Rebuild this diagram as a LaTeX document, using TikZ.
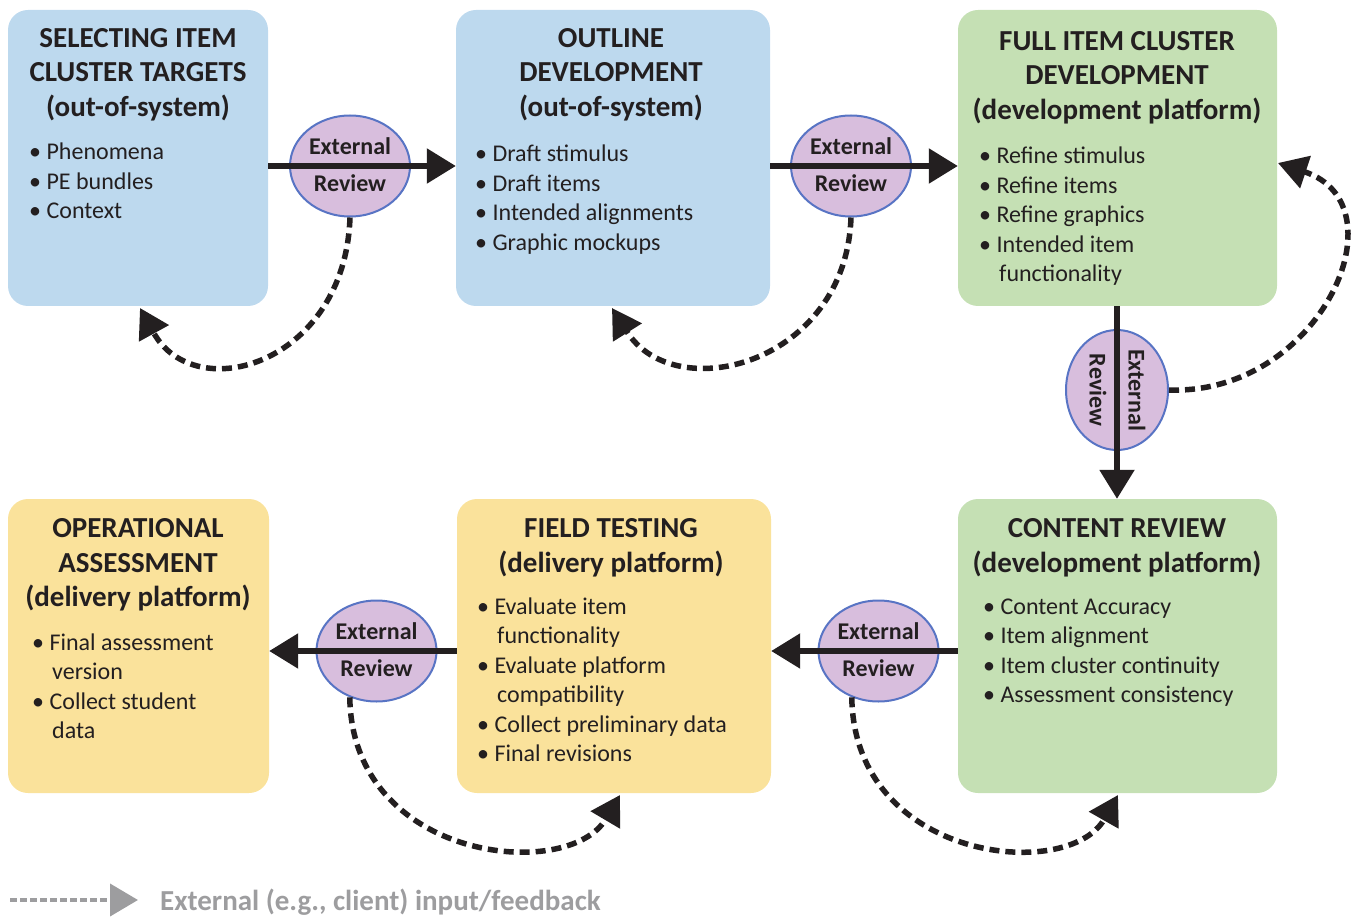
\documentclass[tikz,border=0pt]{standalone}
\usepackage{fontspec}
\setmainfont{Carlito}
\usetikzlibrary{arrows.meta,shapes.geometric}
\definecolor{boxblue}{HTML}{BDD9EE}
\definecolor{boxgreen}{HTML}{C5E0B4}
\definecolor{boxyellow}{HTML}{FAE29B}
\definecolor{ellfill}{HTML}{D8BEDD}
\definecolor{ellborder}{HTML}{5874C4}
\definecolor{ink}{HTML}{231F20}
\definecolor{legendgray}{HTML}{9D9D9F}
\newcommand{\mktitle}[1]{\begin{tabular}[t]{@{}c@{}}#1\end{tabular}}
\newcommand{\mkbody}[1]{\begin{tabular}[t]{@{}l@{}}#1\end{tabular}}
\newcommand{\bul}{\textbullet\ }
\newcommand{\cont}{\hspace*{20pt}}
\begin{document}
\begin{tikzpicture}[x=1pt,y=-1pt,
  box/.style={rectangle,rounded corners=20pt,minimum height=296pt,inner sep=0pt},
  ttl/.style={anchor=base,inner sep=0pt,text=ink,font=\fontsize{29}{34.5}\selectfont\bfseries},
  body/.style={anchor=base west,inner sep=0pt,text=ink,font=\fontsize{24}{29.5}\selectfont},
  rev/.style={ellipse,draw=ellborder,line width=2pt,fill=ellfill,minimum width=120pt,minimum height=101pt,inner sep=0pt},
  revtxt/.style={inner sep=0pt,text=ink,font=\fontsize{24}{28}\selectfont\bfseries},
  flow/.style={draw=ink,line width=5.5pt,-{Triangle[length=29pt,width=34pt]}},
  fb/.style={draw=ink,line width=5.5pt,dash pattern=on 10pt off 6pt,-{Triangle[length=29pt,width=33pt]}},
  legline/.style={draw=legendgray,line width=4pt,dash pattern=on 7pt off 3pt,-{Triangle[length=28pt,width=32pt]}}]
\useasboundingbox (0,0) rectangle (1357,917);

% boxes
\node[box,fill=boxblue,minimum width=260pt] (b1) at (138,158) {};
\node[box,fill=boxblue,minimum width=314pt] (b2) at (613,158) {};
\node[box,fill=boxgreen,minimum width=319pt] (b3) at (1117.5,158) {};
\node[box,fill=boxyellow,minimum width=261pt,minimum height=294pt] (b4) at (138.5,646) {};
\node[box,fill=boxyellow,minimum width=314pt,minimum height=294pt] (b5) at (614,646) {};
\node[box,fill=boxgreen,minimum width=319pt,minimum height=294pt] (b6) at (1117.5,646) {};

% titles
\node[ttl] (t1) at (138,47.5) {\mktitle{SELECTING ITEM\\CLUSTER TARGETS\\(out-of-system)}};
\node[ttl] (t2) at (611,47.5) {\mktitle{OUTLINE\\DEVELOPMENT\\(out-of-system)}};
\node[ttl] (t3) at (1117,50.5) {\mktitle{FULL ITEM CLUSTER\\DEVELOPMENT\\(development platform)}};
\node[ttl] (t4) at (138,537.5) {\mktitle{OPERATIONAL\\ASSESSMENT\\(delivery platform)}};
\node[ttl] (t5) at (611,537.5) {\mktitle{FIELD TESTING\\(delivery platform)}};
\node[ttl] (t6) at (1117,537.5) {\mktitle{CONTENT REVIEW\\(development platform)}};

% bodies
\node[body] (l1) at (29,160) {\mkbody{\bul Phenomena\\\bul PE bundles\\\bul Context}};
\node[body] (l2) at (475,162) {\mkbody{\bul Draft stimulus\\\bul Draft items\\\bul Intended alignments\\\bul Graphic mockups}};
\node[body] (l3) at (979,164) {\mkbody{\bul Refine stimulus\\\bul Refine items\\\bul Refine graphics\\\bul Intended item\\\cont functionality}};
\node[body] (l4) at (32,650) {\mkbody{\bul Final assessment\\\cont version\\\bul Collect student\\\cont data}};
\node[body] (l5) at (477,614) {\mkbody{\bul Evaluate item\\\cont functionality\\\bul Evaluate platform\\\cont compatibility\\\bul Collect preliminary data\\\bul Final revisions}};
\node[body] (l6) at (983,614) {\mkbody{\bul Content Accuracy\\\bul Item alignment\\\bul Item cluster continuity\\\bul Assessment consistency}};

% review ellipses
\node[rev] (e1) at (350,166) {};
\node[rev] (e2) at (851,166) {};
\node[rev,minimum width=102pt,minimum height=120pt] (ev) at (1117,390) {};
\node[rev] (e4) at (376.5,651) {};
\node[rev] (e5) at (878.5,651) {};

% main flow
\draw[flow] (b1.east |- e1.center) -- (b2.west |- e1.center);
\draw[flow] (b2.east |- e2.center) -- (b3.west |- e2.center);
\draw[flow] (b3.south -| ev.center) -- (b6.north -| ev.center);
\draw[flow] (b6.west |- e5.center) -- (b5.east |- e5.center);
\draw[flow] (b5.west |- e4.center) -- (b4.east |- e4.center);

% ellipse labels
\node[revtxt,anchor=base] (r1a) at (350,155) {External};
\node[revtxt,anchor=base] (r1b) at (350,192) {Review};
\node[revtxt,anchor=base] (r2a) at (851,155) {External};
\node[revtxt,anchor=base] (r2b) at (851,192) {Review};
\node[revtxt,rotate=-90] (rva) at (1137,390) {External};
\node[revtxt,rotate=-90] (rvb) at (1098,390) {Review};
\node[revtxt,anchor=base] (r4a) at (376.5,639) {External};
\node[revtxt,anchor=base] (r4b) at (376.5,676) {Review};
\node[revtxt,anchor=base] (r5a) at (878.5,639) {External};
\node[revtxt,anchor=base] (r5b) at (878.5,676) {Review};

% feedback loops
\coordinate (f1) at (140,308);
\coordinate (f2) at (612,308);
\coordinate (f3) at (1278,163);
\coordinate (f4) at (620,795);
\coordinate (f5) at (1118,795);
\draw[fb] (e1.south) .. controls (345,364) and (195,408) .. (f1);
\draw[fb] (e2.south) .. controls (846,364) and (675,408) .. (f2);
\draw[fb] (ev.east) .. controls (1320,395) and (1405,205) .. (f3);
\draw[fb] (e4.240) .. controls (352,861) and (568,883) .. (f4);
\draw[fb] (e5.240) .. controls (854,861) and (1068,883) .. (f5);

% legend
\coordinate (g0) at (10,900);
\coordinate (g1) at (138,900);
\draw[legline] (g0) -- (g1);
\node[anchor=base west,inner sep=0pt,text=legendgray,font=\fontsize{29}{34}\selectfont\bfseries] (leg) at (160,910) {External (e.g., client) input/feedback};
\end{tikzpicture}
\end{document}
